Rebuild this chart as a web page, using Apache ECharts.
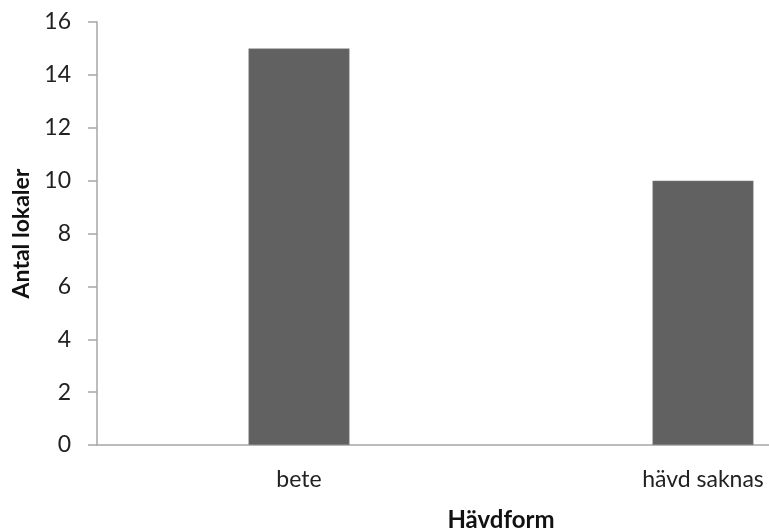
<!DOCTYPE html>
<html>
<head>
<meta charset="utf-8">
<script src="https://cdn.jsdelivr.net/npm/echarts@6/dist/echarts.min.js"></script>
<style>
  html, body { margin: 0; padding: 0; background: #fff; overflow: hidden; }
  #chart { width: 905px; height: 531px; }
</style>
</head>
<body>
<div id="chart"></div>
<script>
  // data
  const categories = ["bete", "hävd saknas"];
  const counts = [15, 10];

  // the chart is wider than the window, so its right part is cut off like the original
  const chart = echarts.init(document.getElementById("chart"));
  const font = "Lato, 'Open Sans', sans-serif";
  const option = {
    backgroundColor: "#fff",
    grid: {
      left: 97,
      right: 0,
      top: 22,
      bottom: 86,
      // keep the grid where it is, no auto shrink for labels
      outerBoundsMode: "none",
      containLabel: false,
    },
    xAxis: {
      type: "category",
      data: categories,
      name: "Hävdform",
      nameLocation: "middle",
      nameGap: 63,
      nameTextStyle: { fontFamily: font, fontSize: 24, fontWeight: "bold", color: "#111" },
      axisLine: { lineStyle: { color: "#a6a6a6", width: 1.5 } },
      axisTick: { show: false },
      axisLabel: { fontFamily: font, fontSize: 23, color: "#222", margin: 23 },
    },
    yAxis: {
      type: "value",
      min: 0,
      max: 16,
      interval: 2,
      name: "Antal lokaler",
      nameLocation: "middle",
      nameRotate: 90,
      nameGap: 64,
      nameTextStyle: { fontFamily: font, fontSize: 23, fontWeight: "bold", color: "#111" },
      axisLine: { show: true, lineStyle: { color: "#a6a6a6", width: 1.5 } },
      axisTick: { show: true, inside: false, length: 9, lineStyle: { color: "#a6a6a6", width: 1.5 } },
      axisLabel: { fontFamily: font, fontSize: 23, color: "#222", margin: 26 },
      splitLine: { show: false },
    },
    series: [
      {
        type: "bar",
        data: counts,
        barWidth: 101,
        itemStyle: { color: "#616161", borderColor: "#8a8a8a", borderWidth: 0.5 },
        animation: false,
      },
    ],
  };
  chart.setOption(option);
</script>
</body>
</html>
